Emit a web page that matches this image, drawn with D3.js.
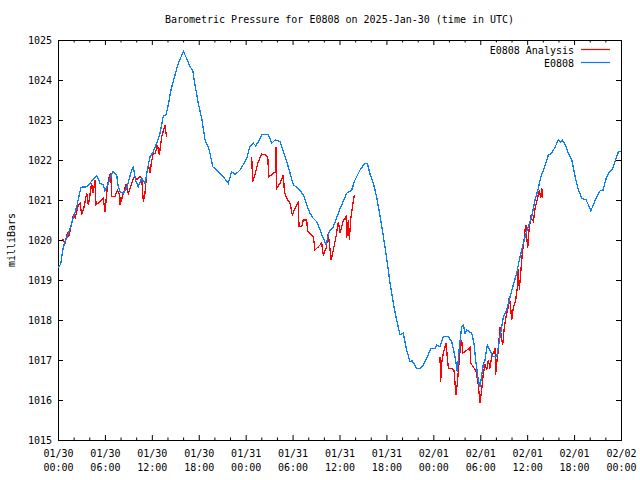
<!DOCTYPE html>
<html>
<head>
<meta charset="utf-8">
<script src="https://cdn.jsdelivr.net/npm/d3@7"></script>
<style>
  html, body { margin: 0; padding: 0; background: #fff; }
  svg text { font-family: "DejaVu Sans Mono", monospace; font-size: 10px; fill: #000; }
</style>
</head>
<body>
<svg id="chart" width="640" height="480"></svg>
<script>
// ---- Data (hours after 2025-01-30 00:00 UTC, pressure in mb) ----
const titleText = "Barometric Pressure for E0808 on 2025-Jan-30 (time in UTC)";
const yLabel = "milliBars";
const seriesNames = ["E0808 Analysis", "E0808"];
const yTicks = [1015, 1016, 1017, 1018, 1019, 1020, 1021, 1022, 1023, 1024, 1025];
const xMajorHours = [0, 6, 12, 18, 24, 30, 36, 42, 48, 54, 60, 66, 72];

const stationHours = [0.0,0.34,0.68,1.1,1.75,2.39,2.94,3.67,4.09,4.43,4.94,5.37,5.8,6.0,6.3,6.99,7.5,7.7,7.93,8.36,8.78,9.42,9.63,9.97,10.27,10.7,11.13,11.55,11.77,12.19,12.62,13.05,13.47,13.81,14.1,14.45,14.84,15.39,16.03,16.46,16.88,17.22,17.52,17.94,18.38,18.8,19.35,19.79,20.3,20.94,21.78,22.21,22.64,23.28,23.92,24.13,24.56,24.98,25.3,25.62,26.05,26.9,27.33,27.75,28.39,28.82,29.45,30.09,30.73,31.37,31.8,32.23,32.65,33.08,33.51,33.93,34.28,34.7,35.21,35.85,36.28,36.92,37.56,37.98,38.62,39.26,39.56,39.9,40.33,40.75,41.18,41.6,42.03,42.46,42.88,43.31,43.74,44.16,44.59,45.02,45.3,45.87,46.38,46.71,47.14,47.66,48.2,48.43,48.85,49.28,49.92,50.35,50.77,51.07,51.33,51.63,51.84,52.05,52.27,52.91,53.2,53.46,53.75,53.97,54.4,54.61,54.9,55.24,55.59,56.1,56.53,56.95,57.38,57.81,58.23,58.66,59.0,59.3,59.73,60.15,60.58,61.0,61.43,61.74,62.08,62.72,63.15,63.58,64.0,64.25,64.5,64.86,65.28,65.71,66.14,66.56,66.99,67.53,67.83,68.14,68.47,68.9,69.33,69.7,70.1,70.4,70.96,71.38,71.68,72.0];
const stationValues = [1019.3,1019.4,1019.83,1020.04,1020.42,1020.83,1021.32,1021.33,1021.42,1021.5,1021.61,1021.42,1021.38,1021.23,1021.35,1021.71,1021.63,1021.33,1021.21,1021.17,1021.29,1021.75,1021.82,1021.46,1021.33,1021.54,1021.42,1021.88,1022.08,1022.21,1022.42,1022.67,1023.1,1023.13,1023.38,1023.75,1024.04,1024.42,1024.71,1024.54,1024.33,1024.25,1023.88,1023.42,1023.04,1022.5,1022.25,1021.83,1021.75,1021.63,1021.42,1021.71,1021.63,1021.75,1021.96,1022.04,1022.35,1022.42,1022.35,1022.46,1022.63,1022.63,1022.42,1022.5,1022.46,1022.21,1021.83,1021.38,1021.29,1021.13,1020.88,1020.67,1020.54,1020.46,1020.25,1020.04,1019.89,1020.21,1020.33,1020.67,1020.88,1021.17,1021.25,1021.5,1021.75,1021.92,1021.92,1021.65,1021.42,1021.08,1020.6,1020.1,1019.55,1018.92,1018.42,1018.0,1017.63,1017.67,1017.25,1016.96,1016.98,1016.79,1016.79,1016.88,1017.04,1017.28,1017.29,1017.38,1017.33,1017.58,1017.58,1017.46,1017.08,1016.71,1017.33,1017.83,1017.88,1017.67,1017.75,1017.67,1017.42,1016.92,1016.5,1016.33,1016.9,1017.0,1017.38,1017.25,1017.08,1017.08,1017.58,1018.08,1018.25,1018.58,1018.88,1019.17,1019.5,1019.75,1020.08,1020.33,1020.58,1021.0,1021.29,1021.58,1021.75,1022.13,1022.17,1022.33,1022.5,1022.45,1022.5,1022.38,1022.17,1022.0,1021.58,1021.25,1021.04,1021.0,1020.88,1020.73,1020.88,1021.08,1021.23,1021.25,1021.54,1021.67,1021.79,1022.04,1022.21,1022.21];

// Analysis series; null marks a gap in the record
const analysisHours = [0.6,0.9,1.19,1.4,1.75,1.96,2.2,2.6,2.81,3.03,3.3,3.67,3.88,4.09,4.3,4.5,4.73,4.86,5.37,5.8,6.01,6.31,6.56,6.74,6.88,7.29,7.6,7.9,7.95,8.36,8.7,8.99,9.42,9.76,10.1,10.49,10.7,10.91,11.13,11.34,11.55,11.77,11.95,12.19,12.45,12.7,12.96,13.26,13.68,13.8,13.9,
  19.0,
  24.77,24.9,25.19,25.62,26.05,26.47,26.82,26.9,26.98,27.54,27.84,27.88,27.97,28.39,28.82,28.95,29.25,29.67,29.96,30.31,30.73,30.82,31.16,31.37,31.8,31.93,32.23,32.65,32.87,33.29,33.72,33.93,34.28,34.57,34.92,35.21,35.55,35.85,36.07,36.49,36.84,36.92,37.13,37.26,37.44,37.7,37.9,
  43.0,
  48.85,48.94,49.07,49.28,49.62,49.92,50.35,50.64,50.77,50.9,51.07,51.43,51.63,51.76,52.05,52.69,52.78,53.12,53.46,53.75,53.97,54.18,54.4,54.61,54.83,55.04,55.24,55.46,55.67,55.89,55.97,56.1,56.31,56.53,56.74,56.87,57.08,57.38,57.59,57.72,57.9,58.02,58.23,58.53,58.74,58.87,59.0,59.17,59.38,59.6,59.73,59.85,59.94,60.07,60.24,60.45,60.79,61.01,61.22,61.43,61.56,61.74,61.87,61.95];
const analysisValues = [1020.02,1019.92,1020.17,1020.1,1020.42,1020.63,1020.55,1020.88,1020.92,1020.63,1020.8,1021.17,1020.88,1021.13,1021.42,1021.17,1021.5,1020.88,1020.96,1021.04,1020.71,1021.33,1021.58,1021.67,1021.08,1021.08,1021.25,1021.13,1020.88,1021.17,1021.38,1021.17,1021.42,1021.58,1021.5,1021.58,1021.55,1020.96,1021.17,1021.67,1021.88,1021.67,1021.95,1022.17,1022.17,1022.38,1022.13,1022.58,1022.88,1022.7,1022.58,
  null,
  1022.08,1021.46,1021.63,1021.96,1022.15,1022.13,1022.08,1021.79,1021.58,1021.67,1021.71,1022.33,1021.29,1021.42,1021.63,1021.21,1021.04,1020.92,1020.63,1020.79,1020.96,1020.33,1020.33,1020.5,1020.5,1020.21,1020.17,1020.08,1019.75,1019.83,1019.92,1019.63,1019.79,1020.17,1019.5,1019.75,1020.08,1020.46,1020.17,1020.5,1020.58,1020.04,1020.5,1020.0,1020.54,1020.88,1021.13,
  null,
  1017.08,1016.46,1016.92,1017.17,1017.42,1016.79,1016.79,1016.75,1016.42,1016.13,1016.42,1017.25,1017.5,1017.17,1017.21,1017.31,1016.92,1016.83,1016.71,1016.38,1015.92,1016.25,1016.67,1016.88,1016.75,1017.0,1016.79,1017.08,1017.17,1017.29,1016.63,1016.92,1017.25,1017.83,1017.5,1017.38,1017.83,1018.17,1018.33,1018.58,1018.27,1018.0,1018.31,1018.5,1018.8,1019.27,1018.75,1019.17,1019.67,1020.0,1020.25,1020.38,1020.08,1019.79,1020.25,1020.58,1020.46,1020.79,1020.96,1021.13,1021.25,1021.04,1021.29,1021.04];

// ---- Layout ----
const W = 640, H = 480;
const M = { left: 58, right: 19, top: 40, bottom: 40 };
const t0 = Date.UTC(2025, 0, 30, 0, 0);
const hourToDate = h => new Date(t0 + h * 3600000);

const svg = d3.select("#chart");
svg.append("rect").attr("width", W).attr("height", H).attr("fill", "#fff");

const x = d3.scaleUtc()
  .domain([hourToDate(0), hourToDate(72)])
  .range([M.left, W - M.right]);
const y = d3.scaleLinear()
  .domain([1015, 1025])
  .range([H - M.bottom, M.top]);

const majorDates = xMajorHours.map(hourToDate);
const minorDates = d3.range(0, 73, 2).filter(h => h % 6 !== 0).map(hourToDate);

function styleAxis(g) {
  g.select(".domain").remove();
  g.selectAll(".tick line").attr("stroke", "#000").attr("stroke-width", 1);
  g.attr("font-family", null).attr("font-size", null);
}

// bottom major ticks + labels
const gx = svg.append("g").attr("transform", `translate(0,${H - M.bottom})`)
  .call(d3.axisBottom(x).tickValues(majorDates).tickSize(-5).tickSizeOuter(0));
styleAxis(gx);
gx.selectAll(".tick text").each(function(d) {
  const t = d3.select(this);
  t.text(null).attr("y", null).attr("dy", null);
  t.append("tspan").attr("x", 0).attr("y", 17).text(d3.utcFormat("%m/%d")(d));
  t.append("tspan").attr("x", 0).attr("y", 31).text(d3.utcFormat("%H:%M")(d));
});
// bottom minor ticks
styleAxis(svg.append("g").attr("transform", `translate(0,${H - M.bottom})`)
  .call(d3.axisBottom(x).tickValues(minorDates).tickSize(-2.5).tickFormat("")));
// top ticks
styleAxis(svg.append("g").attr("transform", `translate(0,${M.top})`)
  .call(d3.axisTop(x).tickValues(majorDates).tickSize(-5).tickFormat("")));
styleAxis(svg.append("g").attr("transform", `translate(0,${M.top})`)
  .call(d3.axisTop(x).tickValues(minorDates).tickSize(-2.5).tickFormat("")));

// left axis
const gy = svg.append("g").attr("transform", `translate(${M.left},0)`)
  .call(d3.axisLeft(y).tickValues(yTicks).tickSize(-5).tickPadding(6).tickFormat(d3.format("d")));
styleAxis(gy);
// right axis
styleAxis(svg.append("g").attr("transform", `translate(${W - M.right},0)`)
  .call(d3.axisRight(y).tickValues(yTicks).tickSize(-5).tickFormat("")));

// frame
svg.append("rect")
  .attr("x", M.left + 0.5).attr("y", M.top + 0.5)
  .attr("width", W - M.left - M.right).attr("height", H - M.top - M.bottom)
  .attr("fill", "none").attr("stroke", "#000").attr("stroke-width", 1);

// title
svg.append("text").attr("x", (M.left + W - M.right) / 2).attr("y", 23)
  .attr("text-anchor", "middle").text(titleText);
// y label
svg.append("text").attr("transform", `translate(15,${(M.top + H - M.bottom) / 2}) rotate(-90)`)
  .attr("text-anchor", "middle").text(yLabel);

// series
const colors = ["#ff0000", "#0a7ff5"];
const line = d3.line()
  .defined(d => d[1] !== null)
  .x(d => x(hourToDate(d[0])))
  .y(d => y(d[1]));

const analysisData = analysisHours.map((h, i) => [h, analysisValues[i]]);
const stationData = stationHours.map((h, i) => [h, stationValues[i]]);

const plot = svg.append("g");
plot.append("path").datum(analysisData).attr("d", line)
  .attr("fill", "none").attr("stroke", colors[0]).attr("stroke-width", 1.3)
  .attr("shape-rendering", "crispEdges");
plot.append("path").datum(stationData).attr("d", line)
  .attr("fill", "none").attr("stroke", colors[1]).attr("stroke-width", 1.3)
  .attr("shape-rendering", "crispEdges");

// legend
const legend = svg.append("g");
seriesNames.forEach((name, i) => {
  const ly = 50 + i * 13;
  legend.append("text").attr("x", 574).attr("y", ly).attr("dy", "0.35em")
    .attr("text-anchor", "end").text(name);
  legend.append("line").attr("x1", 581).attr("x2", 610).attr("y1", ly - 0.5).attr("y2", ly - 0.5)
    .attr("stroke", colors[i]).attr("stroke-width", 1.2);
});
</script>
</body>
</html>
